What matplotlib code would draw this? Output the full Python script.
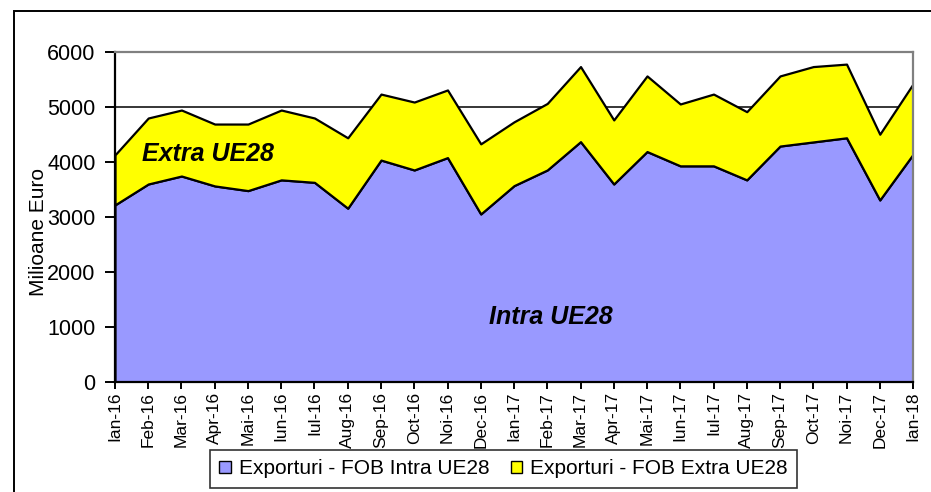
import numpy as np
import matplotlib.pyplot as plt
from matplotlib.patches import Patch, Rectangle

plt.rcParams['font.family'] = ['Liberation Sans', 'DejaVu Sans']

# ── Data (milioane euro) ─────────────────────────────────────
months = ['Ian-16', 'Feb-16', 'Mar-16', 'Apr-16', 'Mai-16', 'Iun-16', 'Iul-16',
          'Aug-16', 'Sep-16', 'Oct-16', 'Noi-16', 'Dec-16',
          'Ian-17', 'Feb-17', 'Mar-17', 'Apr-17', 'Mai-17', 'Iun-17', 'Iul-17',
          'Aug-17', 'Sep-17', 'Oct-17', 'Noi-17', 'Dec-17', 'Ian-18']

intra = [3220, 3600, 3745, 3565, 3480, 3675, 3630, 3160, 4035, 3855, 4080, 3055,
         3570, 3855, 4370, 3600, 4190, 3930, 3930, 3675, 4290, 4365, 4440, 3310,
         4140]

total = [4130, 4800, 4945, 4690, 4690, 4945, 4800, 4440, 5235, 5090, 5310, 4330,
         4730, 5065, 5735, 4765, 5565, 5055, 5235, 4915, 5565, 5735, 5780, 4505,
         5420]

extra = [t - i for t, i in zip(total, intra)]

C_INTRA = '#9999ff'
C_EXTRA = '#ffff00'

fig = plt.figure(figsize=(9.31, 4.92), dpi=100, facecolor='white')
ax = fig.add_axes([0.1235, 0.2236, 0.8572, 0.6707])

x = np.arange(len(months))
ax.stackplot(x, intra, extra, colors=[C_INTRA, C_EXTRA],
             edgecolor='black', linewidth=1.6, zorder=2)

# ── Grid / frame ─────────────────────────────────────────────
ax.set_ylim(0, 6000)
ax.set_xlim(0, len(months) - 1)
ax.set_yticks(np.arange(0, 6001, 1000))
ax.yaxis.grid(True, color='black', lw=1.1, zorder=1)
ax.set_axisbelow(True)
for side in ['top', 'right']:
    ax.spines[side].set_color('#808080')
for side in ['top', 'right', 'left', 'bottom']:
    ax.spines[side].set_linewidth(1.6)

ax.set_xticks(x)
ax.set_xticklabels(months, rotation=90, fontsize=12.5)
ax.tick_params(axis='x', direction='out', length=5, width=1.4, pad=2)
ax.tick_params(axis='y', direction='out', length=7, width=1.4,
               labelsize=15.5, pad=7)
ax.set_ylabel('Milioane Euro', fontsize=15, va='center')
ax.yaxis.set_label_coords(-0.096, 0.455)

# ── Series labels inside areas ───────────────────────────────
ax.text(2.8, 4150, 'Extra UE28', fontsize=18, fontweight='bold',
        fontstyle='italic', ha='center', va='center', zorder=3)
ax.text(13.1, 1180, 'Intra UE28', fontsize=18, fontweight='bold',
        fontstyle='italic', ha='center', va='center', zorder=3)

# ── Legend ───────────────────────────────────────────────────
handles = [Patch(facecolor=C_INTRA, edgecolor='black', lw=1.0,
                 label='Exporturi - FOB Intra UE28'),
           Patch(facecolor=C_EXTRA, edgecolor='black', lw=1.0,
                 label='Exporturi - FOB Extra UE28')]
leg = fig.legend(handles=handles, loc='center', ncol=2,
                 bbox_to_anchor=(0.541, 0.047), fontsize=15, frameon=True,
                 fancybox=False, edgecolor='black', handlelength=0.55,
                 handleheight=0.55, handletextpad=0.4, columnspacing=1.0,
                 borderpad=0.45)
leg.get_frame().set_linewidth(1.2)

# outer chart border (extends past the image on right/bottom)
fig.patches.append(Rectangle((14 / 931, -0.1), 1.2, 1 - 11 / 492 + 0.1,
                             transform=fig.transFigure, fill=False,
                             edgecolor='black', lw=1.4))

fig.savefig('out.png', dpi=100, facecolor='white')
